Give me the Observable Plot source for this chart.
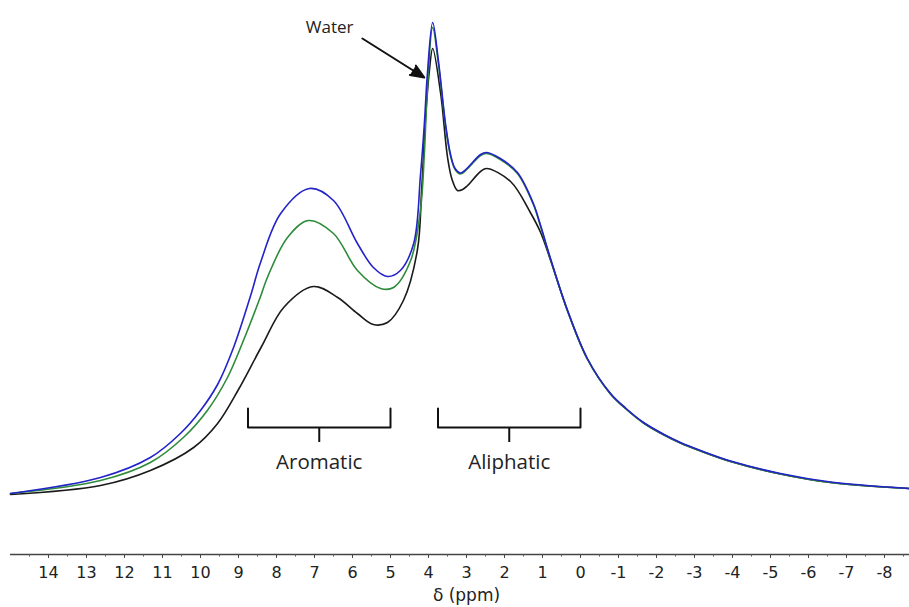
<!DOCTYPE html>
<html>
<head>
<meta charset="utf-8">
<script src="https://cdn.jsdelivr.net/npm/d3@7"></script>
<script src="https://cdn.jsdelivr.net/npm/@observablehq/plot@0.6"></script>
<style>
  html, body { margin: 0; padding: 0; background: #fff; }
  svg { display: block; }
</style>
</head>
<body>
<div id="chart"></div>
<script>
// Chemical shift (ppm) and intensity (arbitrary units)
const blackPpm = [15.0, 12.63, 11.32, 10.18, 9.55, 9.0, 8.4, 7.8, 7.03, 6.39, 5.87, 5.45, 5.08, 4.66, 4.29, 4.18, 4.08, 3.98, 3.89, 3.68, 3.50, 3.38, 3.24, 3.10, 2.97, 2.63, 2.47, 1.84, 1.32, 1.05, 0.79, 0.34, -0.18, -0.79, -1.2, -1.66, -2.2, -2.63, -3.16, -3.95, -5.26, -6.58, -8.66];
const blackInt = [12.0, 13.8, 16.8, 21.4, 26.2, 33.0, 41.5, 49.5, 53.6, 51.4, 48.2, 46.0, 46.4, 50.8, 61.0, 73.0, 87.0, 96.5, 101.2, 92.2, 79.5, 75.0, 72.8, 73.0, 73.8, 76.6, 77.2, 74.6, 68.4, 64.4, 58.9, 48.7, 39.1, 32.1, 29.1, 26.3, 23.9, 22.3, 20.7, 18.6, 16.1, 14.4, 13.2];

const greenPpm = [15.0, 12.63, 11.32, 10.45, 9.82, 9.29, 8.87, 8.42, 8.24, 7.71, 7.16, 6.50, 5.87, 5.26, 4.92, 4.47, 4.21, 4.11, 4.03, 3.89, 3.74, 3.55, 3.42, 3.30, 3.16, 3.02, 2.89, 2.63, 2.47, 2.11, 1.66, 1.24, 1.05, 0.79, 0.34, -0.18, -0.79, -1.2, -1.66, -2.2, -2.63, -3.16, -3.95, -5.26, -6.58, -8.66];
const greenInt = [12.2, 14.8, 18.4, 23.4, 28.8, 35.4, 42.8, 51.6, 55.4, 63.4, 66.8, 64.2, 56.8, 53.2, 53.4, 58.8, 69.0, 80.0, 93.0, 105.4, 98.2, 85.6, 79.7, 77.0, 76.1, 76.8, 77.8, 79.8, 80.2, 79.0, 76.2, 70.0, 65.6, 59.1, 48.7, 39.1, 32.1, 29.1, 26.3, 23.9, 22.3, 20.7, 18.6, 16.1, 14.4, 13.2];

const bluePpm = [15.0, 12.63, 11.32, 10.53, 10.0, 9.55, 9.13, 8.68, 8.42, 7.89, 7.13, 6.50, 5.87, 5.45, 5.08, 4.74, 4.39, 4.21, 4.11, 4.03, 3.89, 3.74, 3.55, 3.42, 3.30, 3.16, 3.02, 2.89, 2.63, 2.47, 2.11, 1.66, 1.24, 1.05, 0.79, 0.34, -0.18, -0.79, -1.2, -1.66, -2.2, -2.63, -3.16, -3.95, -5.26, -6.58, -8.66];
const blueInt = [12.2, 15.4, 19.4, 24.2, 28.8, 34.0, 41.4, 51.8, 58.4, 68.2, 73.2, 70.8, 62.2, 57.4, 55.6, 56.8, 62.2, 76.0, 86.0, 96.0, 106.4, 98.8, 86.0, 80.0, 77.2, 76.3, 77.0, 78.0, 80.0, 80.4, 79.2, 76.4, 70.2, 65.8, 59.2, 48.8, 39.2, 32.2, 29.2, 26.4, 24.0, 22.4, 20.8, 18.7, 16.2, 14.5, 13.2];

const majorTicks = [14, 13, 12, 11, 10, 9, 8, 7, 6, 5, 4, 3, 2, 1, 0, -1, -2, -3, -4, -5, -6, -7, -8];
const minorTicks = [14.5, 13.5, 12.5, 11.5, 10.5, 9.5, 8.5, 7.5, 6.5, 5.5, 4.5, 3.5, 2.5, 1.5, 0.5, -0.5, -1.5, -2.5, -3.5, -4.5, -5.5, -6.5, -7.5, -8.5];

const regionNames = ["Aromatic", "Aliphatic"];
const regionFrom = [8.75, 3.75];
const regionTo = [5.0, 0.0];
const waterLabel = "Water";
const axisLabel = "δ (ppm)";

const series = [
  {name: "black", color: "#1a1a1a", ppm: blackPpm, val: blackInt},
  {name: "green", color: "#2e8b3a", ppm: greenPpm, val: greenInt},
  {name: "blue", color: "#2323c8", ppm: bluePpm, val: blueInt}
];
const rows = series.flatMap(s => s.ppm.map((p, i) => ({series: s.name, color: s.color, ppm: p, v: s.val[i]})));

const brackets = regionNames.flatMap((n, i) => [
  {name: n, ppm: regionFrom[i], v: 29.2},
  {name: n, ppm: regionFrom[i], v: 25.4},
  {name: n, ppm: regionTo[i], v: 25.4},
  {name: n, ppm: regionTo[i], v: 29.2}
]);
const stems = regionNames.map((n, i) => ({name: n, ppm: (regionFrom[i] + regionTo[i]) / 2}));

const chart = Plot.plot({
  width: 909,
  height: 607,
  marginLeft: 10,
  marginRight: 0,
  marginTop: 0,
  marginBottom: 53,
  style: {fontFamily: "DejaVu Sans", fontSize: "16px", color: "#222", background: "#fff"},
  x: {domain: [15, -8.658], axis: null},
  y: {domain: [0, 110.8], axis: null},
  marks: [
    Plot.ruleY([0], {stroke: "#444", strokeWidth: 1.6}),
    Plot.axisX(majorTicks, {tickSize: 4, tickPadding: 8, fontSize: 16, tickFormat: d => String(d), stroke: "#444", fill: "#222", label: null}),
    Plot.axisX(minorTicks, {tickSize: 2.5, tickFormat: () => "", stroke: "#555", label: null}),
    Plot.text([axisLabel], {x: 3.0, frameAnchor: "bottom", dy: 46, text: d => d, fontSize: 17, fill: "#222"}),
    Plot.line(rows, {x: "ppm", y: "v", z: "series", stroke: "color", strokeWidth: 1.6, curve: "catmull-rom"}),
    Plot.line(brackets, {x: "ppm", y: "v", z: "name", stroke: "#111", strokeWidth: 2, strokeLinejoin: "round"}),
    Plot.ruleX(stems, {x: "ppm", y1: 25.4, y2: 22.4, stroke: "#111", strokeWidth: 2}),
    Plot.text(stems, {x: "ppm", y: 18.4, text: "name", fontFamily: "Open Sans", fontSize: 20.5, fill: "#222"}),
    Plot.arrow([{x1: 5.74, y1: 103.2, x2: 4.11, y2: 95.4}], {x1: "x1", y1: "y1", x2: "x2", y2: "y2", stroke: "#111", fill: "#111", strokeWidth: 2, headLength: 11, headAngle: 45}),
    Plot.text([waterLabel], {x: 6.6, y: 105.4, text: d => d, fontFamily: "Open Sans", fontSize: 17, fill: "#222"})
  ]
});
document.getElementById("chart").appendChild(chart);
</script>
</body>
</html>
